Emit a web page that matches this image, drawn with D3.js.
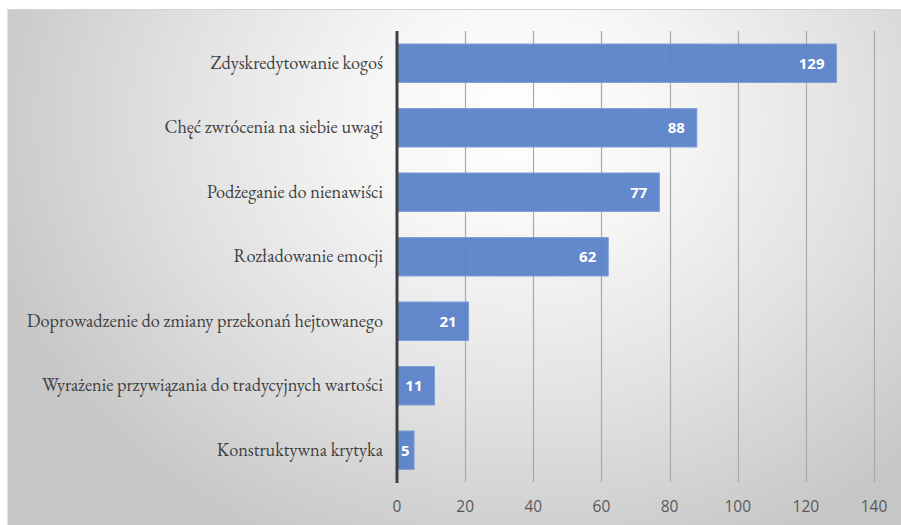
<!DOCTYPE html>
<html>
<head>
<meta charset="utf-8">
<script src="https://cdn.jsdelivr.net/npm/d3@7"></script>
<style>
  html, body { margin: 0; padding: 0; background: #ffffff; }
  svg { display: block; }
</style>
</head>
<body>
<svg id="chart" width="901" height="525"></svg>
<script>
// Motives for hate speech, counts of responses
const categories = [
  "Zdyskredytowanie kogoś",
  "Chęć zwrócenia na siebie uwagi",
  "Podżeganie do nienawiści",
  "Rozładowanie emocji",
  "Doprowadzenie do zmiany przekonań hejtowanego",
  "Wyrażenie przywiązania do tradycyjnych wartości",
  "Konstruktywna krytyka"
];
const values = [129, 88, 77, 62, 21, 11, 5];
const xTicks = [0, 20, 40, 60, 80, 100, 120, 140];

const svg = d3.select("#chart");
const W = 901, H = 525;

// Chart area background: radial grey-to-white gradient
const defs = svg.append("defs");
const rg = defs.append("radialGradient")
  .attr("id", "bg")
  .attr("gradientUnits", "userSpaceOnUse")
  .attr("cx", 520).attr("cy", 120).attr("r", 560)
  .attr("gradientTransform", "translate(520,120) scale(1,0.85) translate(-520,-120)");
rg.append("stop").attr("offset", "0%").attr("stop-color", "#ffffff");
rg.append("stop").attr("offset", "25%").attr("stop-color", "#f7f7f7");
rg.append("stop").attr("offset", "60%").attr("stop-color", "#e2e2e2");
rg.append("stop").attr("offset", "100%").attr("stop-color", "#c6c6c6");

svg.append("rect")
  .attr("x", 7).attr("y", 9)
  .attr("width", W - 7).attr("height", H - 9)
  .attr("fill", "url(#bg)");
svg.append("line")
  .attr("x1", 7).attr("x2", W).attr("y1", 9.5).attr("y2", 9.5)
  .attr("stroke", "#d4d4d4").attr("stroke-width", 1);
svg.append("line")
  .attr("x1", 7.5).attr("x2", 7.5).attr("y1", 9).attr("y2", H)
  .attr("stroke", "#e4e4e4").attr("stroke-width", 1);

const x = d3.scaleLinear().domain([0, 140]).range([397, 874]);
const y = d3.scaleBand()
  .domain(categories)
  .range([31, 482.5])
  .paddingInner(0.403)
  .paddingOuter(0.2015);

// Vertical gridlines
svg.append("g")
  .selectAll("line")
  .data(xTicks.slice(1))
  .join("line")
  .attr("x1", d => Math.round(x(d)) + 0.5)
  .attr("x2", d => Math.round(x(d)) + 0.5)
  .attr("y1", 31).attr("y2", 482)
  .attr("stroke", "#a9a9a9")
  .attr("stroke-width", 1.2);

// Bars
svg.append("g")
  .selectAll("rect")
  .data(values)
  .join("rect")
  .attr("x", x(0))
  .attr("y", (d, i) => y(categories[i]))
  .attr("width", d => x(d) - x(0))
  .attr("height", y.bandwidth())
  .attr("fill", "#5b82c9")
  .attr("fill-opacity", 0.95)
  .attr("stroke", "#7e9fd8")
  .attr("stroke-width", 1);

// Category axis line
svg.append("line")
  .attr("x1", x(0)).attr("x2", x(0))
  .attr("y1", 31).attr("y2", 483)
  .attr("stroke", "#404040")
  .attr("stroke-width", 3);

// Category labels
svg.append("g")
  .selectAll("text")
  .data(categories)
  .join("text")
  .attr("x", 383)
  .attr("y", d => y(d) + y.bandwidth() / 2)
  .attr("dy", "0.3em")
  .attr("text-anchor", "end")
  .style("font-family", '"EB Garamond", "Liberation Serif", serif')
  .style("font-size", "18.3px")
  .attr("fill", "#404040")
  .text(d => d);

// Value labels, inside the bar end
const vl = svg.append("g")
  .selectAll("text")
  .data(values)
  .join("text")
  .attr("y", (d, i) => y(categories[i]) + y.bandwidth() / 2)
  .attr("dy", "0.36em")
  .attr("text-anchor", "end")
  .style("font-family", '"Open Sans", "Liberation Sans", sans-serif')
  .style("font-weight", "bold")
  .style("font-size", "15px")
  .attr("fill", "#ffffff")
  .text(d => d);
vl.each(function(d) {
  const w = this.getComputedTextLength();
  const xr = Math.max(x(d) - 12, x(0) + 4 + w);
  d3.select(this).attr("x", xr);
});

// Value axis tick labels
svg.append("g")
  .selectAll("text")
  .data(xTicks)
  .join("text")
  .attr("x", d => x(d))
  .attr("y", 507)
  .attr("dy", "0.35em")
  .attr("text-anchor", "middle")
  .style("font-family", '"Open Sans", "Liberation Sans", sans-serif')
  .style("font-size", "15.5px")
  .attr("fill", "#595959")
  .text(d => d);
</script>
</body>
</html>
